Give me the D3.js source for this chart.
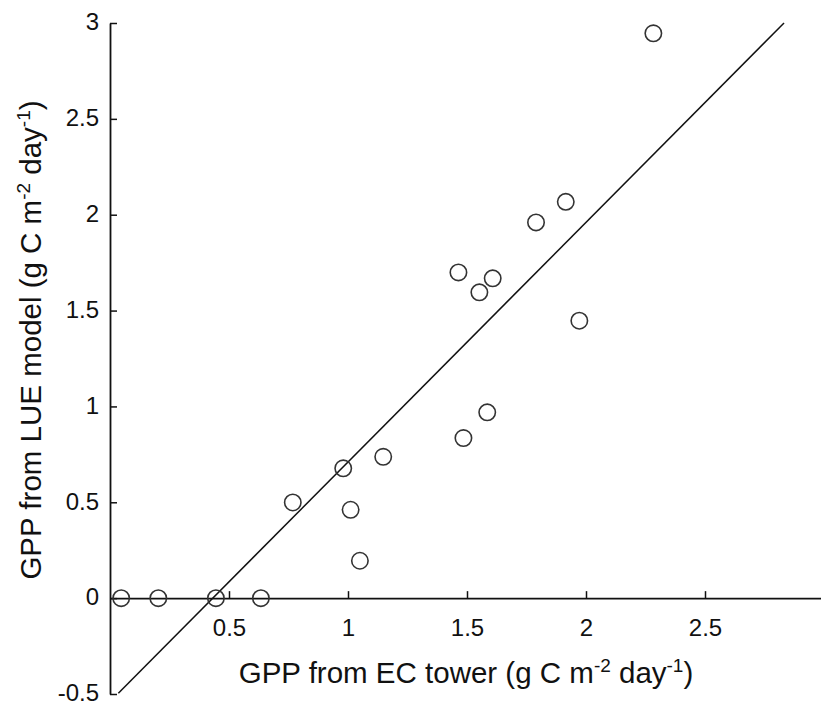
<!DOCTYPE html>
<html><head><meta charset="utf-8">
<script src="https://cdn.jsdelivr.net/npm/d3@7"></script>
<style>body{margin:0;background:#fff}svg{display:block}text{font-family:"Liberation Sans",Arial,sans-serif;fill:#111}</style>
</head><body><svg id="c" width="821" height="705"></svg>
<script>
const ecTower = [0.047,0.203,0.445,0.634,0.768,0.980,1.011,1.050,1.148,1.464,1.485,1.552,1.585,1.608,1.790,1.915,1.972,2.283];
const lueModel = [0,0,0,0,0.499,0.677,0.461,0.195,0.737,1.699,0.835,1.595,0.969,1.668,1.960,2.067,1.447,2.946];
const fitSlope = 1.25, fitIntercept = -0.54, fitXRange = [0.035, 2.832];
const xTicks = [0.5,1,1.5,2,2.5];
const yTicks = [-0.5,0,0.5,1,1.5,2,2.5,3];

const svg = d3.select("#c");
const x = d3.scaleLinear().domain([0,3]).range([110,824]);
const y = d3.scaleLinear().domain([-0.5,3]).range([694,23]);
const fmt = d => String(d);

// y axis
const ya = svg.append("g").attr("transform","translate(110,0)")
  .call(d3.axisLeft(y).tickValues(yTicks).tickSizeInner(-7).tickSizeOuter(0).tickPadding(11).tickFormat(fmt));
ya.select(".domain").attr("stroke","#111").attr("stroke-width",1.8);
ya.selectAll(".tick line").attr("stroke","#111").attr("stroke-width",1.5);
ya.selectAll(".tick text").attr("font-size",24).attr("fill","#111").attr("dy","0.28em");

// x axis at y=0
const xa = svg.append("g").attr("transform",`translate(0,${y(0)})`)
  .call(d3.axisBottom(x).tickValues(xTicks).tickSizeInner(-7).tickSizeOuter(0).tickPadding(21).tickFormat(fmt));
xa.select(".domain").attr("stroke","#111").attr("stroke-width",1.8);
xa.selectAll(".tick line").attr("stroke","#111").attr("stroke-width",1.5);
xa.selectAll(".tick text").attr("font-size",24).attr("fill","#111");

// regression line
svg.append("line")
  .attr("x1",x(fitXRange[0])).attr("y1",y(fitSlope*fitXRange[0]+fitIntercept))
  .attr("x2",x(fitXRange[1])).attr("y2",y(fitSlope*fitXRange[1]+fitIntercept))
  .attr("stroke","#111").attr("stroke-width",1.5);

// points
svg.append("g").selectAll("circle").data(ecTower.map((v,i)=>[v,lueModel[i]])).join("circle")
  .attr("cx",d=>x(d[0])).attr("cy",d=>y(d[1])).attr("r",8.2)
  .attr("fill","none").attr("stroke","#333").attr("stroke-width",1.6);

// axis titles
function title(sel, parts){
  parts.forEach(p=>{
    const t = sel.append("tspan").text(p.t);
    if(p.sup){ t.attr("font-size",19).attr("dy",-11); }
    else if(p.after){ t.attr("dy",11); }
  });
}
const xt = svg.append("text").attr("x",466).attr("y",683).attr("text-anchor","middle").attr("font-size",29.5);
title(xt,[{t:"GPP from EC tower (g C m"},{t:"-2",sup:true},{t:" day",after:true},{t:"-1",sup:true},{t:")",after:true}]);
const yt = svg.append("text").attr("transform","translate(41,340) rotate(-90)").attr("text-anchor","middle").attr("font-size",29.5);
title(yt,[{t:"GPP from LUE model (g C m"},{t:"-2",sup:true},{t:" day",after:true},{t:"-1",sup:true},{t:")",after:true}]);
</script></body></html>
